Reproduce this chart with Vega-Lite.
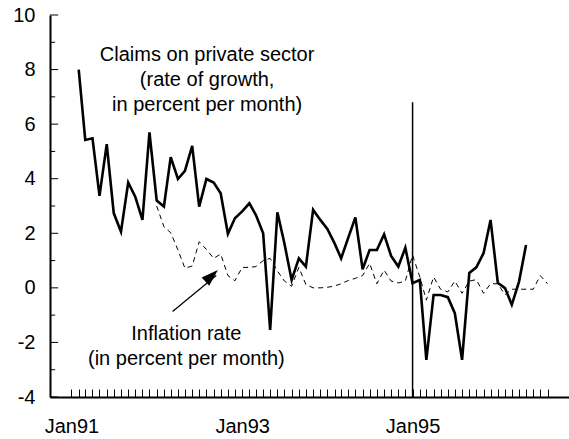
{
  "$schema": "https://vega.github.io/schema/vega-lite/v6.json",
  "width": 519,
  "height": 382,
  "autosize": {"type": "none"},
  "padding": {"left": 50, "top": 15, "right": 0, "bottom": 42},
  "config": {
    "view": {"stroke": null},
    "font": "Liberation Sans",
    "axis": {"grid": false, "domainColor": "black", "domainWidth": 2, "tickColor": "black", "tickWidth": 1, "labelColor": "black", "labelFont": "Liberation Sans", "labelFontSize": 20, "title": null}
  },
  "datasets": {
    "series": [
      {"month": "1991-02-01", "claims": 8.0, "inflation": null},
      {"month": "1991-03-01", "claims": 5.42, "inflation": null},
      {"month": "1991-04-01", "claims": 5.48, "inflation": null},
      {"month": "1991-05-01", "claims": 3.37, "inflation": null},
      {"month": "1991-06-01", "claims": 5.27, "inflation": null},
      {"month": "1991-07-01", "claims": 2.74, "inflation": null},
      {"month": "1991-08-01", "claims": 2.06, "inflation": null},
      {"month": "1991-09-01", "claims": 3.86, "inflation": null},
      {"month": "1991-10-01", "claims": 3.34, "inflation": null},
      {"month": "1991-11-01", "claims": 2.49, "inflation": null},
      {"month": "1991-12-01", "claims": 5.7, "inflation": null},
      {"month": "1992-01-01", "claims": 3.2, "inflation": 3.0},
      {"month": "1992-02-01", "claims": 2.98, "inflation": 2.24},
      {"month": "1992-03-01", "claims": 4.79, "inflation": 2.02},
      {"month": "1992-04-01", "claims": 3.99, "inflation": 1.39},
      {"month": "1992-05-01", "claims": 4.29, "inflation": 0.72},
      {"month": "1992-06-01", "claims": 5.2, "inflation": 0.8},
      {"month": "1992-07-01", "claims": 2.98, "inflation": 1.69},
      {"month": "1992-08-01", "claims": 3.99, "inflation": 1.41},
      {"month": "1992-09-01", "claims": 3.86, "inflation": 1.08},
      {"month": "1992-10-01", "claims": 3.47, "inflation": 1.24},
      {"month": "1992-11-01", "claims": 1.98, "inflation": 0.45},
      {"month": "1992-12-01", "claims": 2.55, "inflation": 0.26},
      {"month": "1993-01-01", "claims": 2.8, "inflation": 0.75},
      {"month": "1993-02-01", "claims": 3.1, "inflation": 0.75},
      {"month": "1993-03-01", "claims": 2.67, "inflation": 0.78},
      {"month": "1993-04-01", "claims": 2.0, "inflation": 1.0},
      {"month": "1993-05-01", "claims": -1.54, "inflation": 1.08},
      {"month": "1993-06-01", "claims": 2.77, "inflation": 0.62},
      {"month": "1993-07-01", "claims": 1.63, "inflation": 0.25},
      {"month": "1993-08-01", "claims": 0.29, "inflation": 0.06},
      {"month": "1993-09-01", "claims": 1.08, "inflation": 0.75},
      {"month": "1993-10-01", "claims": 0.78, "inflation": 0.12},
      {"month": "1993-11-01", "claims": 2.86, "inflation": 0.0},
      {"month": "1993-12-01", "claims": 2.5, "inflation": 0.0},
      {"month": "1994-01-01", "claims": 2.16, "inflation": 0.02},
      {"month": "1994-02-01", "claims": 1.63, "inflation": 0.07},
      {"month": "1994-03-01", "claims": 1.08, "inflation": 0.15},
      {"month": "1994-04-01", "claims": 1.85, "inflation": 0.27},
      {"month": "1994-05-01", "claims": 2.58, "inflation": 0.35},
      {"month": "1994-06-01", "claims": 0.68, "inflation": 0.45},
      {"month": "1994-07-01", "claims": 1.39, "inflation": 0.9},
      {"month": "1994-08-01", "claims": 1.39, "inflation": 0.15},
      {"month": "1994-09-01", "claims": 1.96, "inflation": 0.65},
      {"month": "1994-10-01", "claims": 1.17, "inflation": 0.25},
      {"month": "1994-11-01", "claims": 0.78, "inflation": 0.18},
      {"month": "1994-12-01", "claims": 1.47, "inflation": 0.25},
      {"month": "1995-01-01", "claims": 0.17, "inflation": 1.2},
      {"month": "1995-02-01", "claims": 0.29, "inflation": 0.4},
      {"month": "1995-03-01", "claims": -2.64, "inflation": -0.45},
      {"month": "1995-04-01", "claims": -0.26, "inflation": 0.4},
      {"month": "1995-05-01", "claims": -0.26, "inflation": -0.05},
      {"month": "1995-06-01", "claims": -0.34, "inflation": -0.15},
      {"month": "1995-07-01", "claims": -0.93, "inflation": 0.25},
      {"month": "1995-08-01", "claims": -2.64, "inflation": -0.2},
      {"month": "1995-09-01", "claims": 0.55, "inflation": 0.25},
      {"month": "1995-10-01", "claims": 0.75, "inflation": 0.3},
      {"month": "1995-11-01", "claims": 1.27, "inflation": -0.2},
      {"month": "1995-12-01", "claims": 2.49, "inflation": 0.15},
      {"month": "1996-01-01", "claims": 0.19, "inflation": 0.15},
      {"month": "1996-02-01", "claims": -0.01, "inflation": -0.25},
      {"month": "1996-03-01", "claims": -0.62, "inflation": -0.05},
      {"month": "1996-04-01", "claims": 0.23, "inflation": -0.05},
      {"month": "1996-05-01", "claims": 1.57, "inflation": -0.05},
      {"month": "1996-06-01", "claims": null, "inflation": -0.05},
      {"month": "1996-07-01", "claims": null, "inflation": 0.45},
      {"month": "1996-08-01", "claims": null, "inflation": 0.15}
    ],
    "majorTicks": [{"v": -4}, {"v": -2}, {"v": 0}, {"v": 2}, {"v": 4}, {"v": 6}, {"v": 8}, {"v": 10}],
    "minorTicks": [{"v": -3}, {"v": -1}, {"v": 1}, {"v": 3}, {"v": 5}, {"v": 7}, {"v": 9}]
  },
  "layer": [
    {
      "data": {"name": "series"},
      "transform": [{"filter": "isValid(datum.claims)"}],
      "mark": {"type": "line", "color": "black", "strokeWidth": 2.6, "strokeJoin": "miter"},
      "encoding": {
        "x": {
          "field": "month", "type": "temporal",
          "scale": {"type": "utc", "nice": false, "domain": [{"year": 1990, "month": 10, "date": 1, "utc": true}, {"year": 1996, "month": 11, "date": 1, "utc": true}]},
          "axis": {
            "tickCount": {"interval": "month", "step": 1},
            "tickSize": -8,
            "tickOpacity": {"condition": {"test": "datum.value < utc(1990,11,20) || datum.value > utc(1996,7,20)", "value": 0}, "value": 1},
            "labelExpr": "utcmonth(datum.value) == 0 && utcyear(datum.value) % 2 == 1 ? utcFormat(datum.value, '%b%y') : ''",
            "labelOverlap": false,
            "labelFlush": false,
            "labelBound": false,
            "labelPadding": 27,
            "labelBaseline": "top"
          }
        },
        "y": {
          "field": "claims", "type": "quantitative",
          "scale": {"domain": [-4, 10], "nice": false, "zero": false},
          "axis": {
            "values": [-4, -2, 0, 2, 4, 6, 8, 10],
            "ticks": false,
            "labelExpr": "'' + datum.value",
            "labelOverlap": false,
            "labelPadding": 15
          }
        }
      }
    },
    {
      "data": {"name": "series"},
      "transform": [{"filter": "isValid(datum.inflation)"}],
      "mark": {"type": "line", "color": "black", "strokeWidth": 1, "strokeDash": [5, 4]},
      "encoding": {
        "x": {"field": "month", "type": "temporal"},
        "y": {"field": "inflation", "type": "quantitative"}
      }
    },
    {
      "data": {"name": "majorTicks"},
      "mark": {"type": "rule", "color": "black", "strokeWidth": 1},
      "encoding": {
        "x": {"datum": {"year": 1990, "month": 10, "date": 1, "utc": true}, "type": "temporal"},
        "x2": {"datum": {"year": 1990, "month": 11, "date": 5, "utc": true}},
        "y": {"field": "v", "type": "quantitative"}
      }
    },
    {
      "data": {"name": "minorTicks"},
      "mark": {"type": "rule", "color": "black", "strokeWidth": 1},
      "encoding": {
        "x": {"datum": {"year": 1990, "month": 10, "date": 1, "utc": true}, "type": "temporal"},
        "x2": {"datum": {"year": 1990, "month": 10, "date": 23, "utc": true}},
        "y": {"field": "v", "type": "quantitative"}
      }
    },
    {
      "data": {"values": [{}]},
      "mark": {"type": "rule", "color": "black", "strokeWidth": 1.5},
      "encoding": {
        "x": {"datum": {"year": 1995, "month": 1, "date": 1, "utc": true}, "type": "temporal"},
        "y": {"datum": 6.8, "type": "quantitative"},
        "y2": {"datum": -4}
      }
    },
    {
      "data": {"values": [{"note": "Claims on private sector\n(rate of growth,\nin percent per month)"}]},
      "mark": {"type": "text", "fontSize": 20, "font": "Liberation Sans", "align": "center", "baseline": "alphabetic", "lineBreak": "\n", "lineHeight": 25, "color": "black"},
      "encoding": {
        "text": {"field": "note"},
        "x": {"datum": {"year": 1992, "month": 8, "date": 4, "utc": true}, "type": "temporal"},
        "y": {"datum": 8.32, "type": "quantitative"}
      }
    },
    {
      "data": {"values": [{"note": "Inflation rate\n(in percent per month)"}]},
      "mark": {"type": "text", "fontSize": 20, "font": "Liberation Sans", "align": "center", "baseline": "alphabetic", "lineBreak": "\n", "lineHeight": 25, "color": "black"},
      "encoding": {
        "text": {"field": "note"},
        "x": {"datum": {"year": 1992, "month": 5, "date": 7, "utc": true}, "type": "temporal"},
        "y": {"datum": -1.91, "type": "quantitative"}
      }
    },
    {
      "data": {"values": [{}]},
      "mark": {"type": "rule", "color": "black", "strokeWidth": 1.3},
      "encoding": {
        "x": {"datum": {"year": 1992, "month": 3, "date": 9, "utc": true}, "type": "temporal"},
        "y": {"datum": -0.87, "type": "quantitative"},
        "x2": {"datum": {"year": 1992, "month": 9, "date": 12, "utc": true}},
        "y2": {"datum": 0.45}
      }
    },
    {
      "data": {"values": [{}]},
      "mark": {"type": "point", "shape": "M0,0L-0.65,2L0.65,2Z", "filled": true, "color": "black", "opacity": 1, "size": 289, "angle": 47, "strokeWidth": 0},
      "encoding": {
        "x": {"datum": {"year": 1992, "month": 9, "date": 19, "utc": true}, "type": "temporal"},
        "y": {"datum": 0.654, "type": "quantitative"}
      }
    }
  ]
}
